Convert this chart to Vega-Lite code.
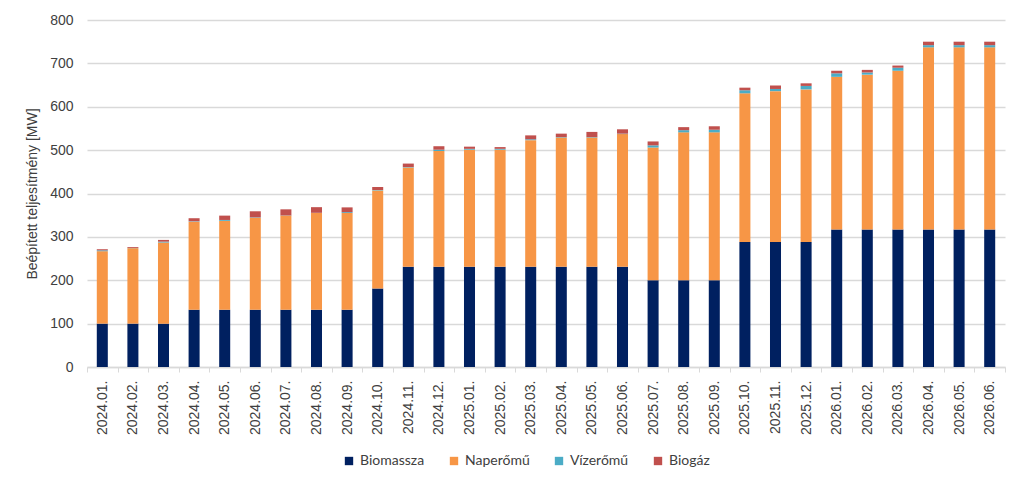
{
  "$schema": "https://vega.github.io/schema/vega-lite/v6.json",
  "width": 918,
  "height": 347,
  "autosize": {"type": "none"},
  "padding": {"left": 87, "top": 20, "right": 19, "bottom": 120},
  "background": "white",
  "config": {
    "view": {"stroke": null},
    "font": "Liberation Sans"
  },
  "data": {
    "values": [
      {"m": "2024.01.", "Biomassza": 100, "Naperőmű": 167, "Vízerőmű": 2, "Biogáz": 2.5},
      {"m": "2024.02.", "Biomassza": 100, "Naperőmű": 174, "Vízerőmű": 0.5, "Biogáz": 2},
      {"m": "2024.03.", "Biomassza": 100, "Naperőmű": 187, "Vízerőmű": 2, "Biogáz": 4},
      {"m": "2024.04.", "Biomassza": 132, "Naperőmű": 203, "Vízerőmű": 1, "Biogáz": 7},
      {"m": "2024.05.", "Biomassza": 132, "Naperőmű": 205, "Vízerőmű": 2, "Biogáz": 10},
      {"m": "2024.06.", "Biomassza": 132, "Naperőmű": 212, "Vízerőmű": 1, "Biogáz": 14},
      {"m": "2024.07.", "Biomassza": 132, "Naperőmű": 217, "Vízerőmű": 0.5, "Biogáz": 14},
      {"m": "2024.08.", "Biomassza": 132, "Naperőmű": 223, "Vízerőmű": 0.5, "Biogáz": 13},
      {"m": "2024.09.", "Biomassza": 132, "Naperőmű": 223, "Vízerőmű": 2, "Biogáz": 11},
      {"m": "2024.10.", "Biomassza": 181, "Naperőmű": 226, "Vízerőmű": 1, "Biogáz": 7},
      {"m": "2024.11.", "Biomassza": 231, "Naperőmű": 229, "Vízerőmű": 1, "Biogáz": 8},
      {"m": "2024.12.", "Biomassza": 231, "Naperőmű": 267, "Vízerőmű": 3, "Biogáz": 8},
      {"m": "2025.01.", "Biomassza": 231, "Naperőmű": 270, "Vízerőmű": 2, "Biogáz": 5},
      {"m": "2025.02.", "Biomassza": 231, "Naperőmű": 270, "Vízerőmű": 2, "Biogáz": 4},
      {"m": "2025.03.", "Biomassza": 231, "Naperőmű": 292, "Vízerőmű": 2, "Biogáz": 9},
      {"m": "2025.04.", "Biomassza": 231, "Naperőmű": 298, "Vízerőmű": 1, "Biogáz": 8},
      {"m": "2025.05.", "Biomassza": 231, "Naperőmű": 298, "Vízerőmű": 1, "Biogáz": 12},
      {"m": "2025.06.", "Biomassza": 231, "Naperőmű": 306, "Vízerőmű": 1, "Biogáz": 10},
      {"m": "2025.07.", "Biomassza": 200, "Naperőmű": 306, "Vízerőmű": 5, "Biogáz": 9},
      {"m": "2025.08.", "Biomassza": 200, "Naperőmű": 341, "Vízerőmű": 5, "Biogáz": 7},
      {"m": "2025.09.", "Biomassza": 200, "Naperőmű": 341, "Vízerőmű": 6, "Biogáz": 8},
      {"m": "2025.10.", "Biomassza": 288, "Naperőmű": 343, "Vízerőmű": 7, "Biogáz": 6},
      {"m": "2025.11.", "Biomassza": 288, "Naperőmű": 348, "Vízerőmű": 5, "Biogáz": 8},
      {"m": "2025.12.", "Biomassza": 288, "Naperőmű": 352, "Vízerőmű": 8, "Biogáz": 6},
      {"m": "2026.01.", "Biomassza": 317, "Naperőmű": 352, "Vízerőmű": 8, "Biogáz": 6},
      {"m": "2026.02.", "Biomassza": 317, "Naperőmű": 357, "Vízerőmű": 5, "Biogáz": 6},
      {"m": "2026.03.", "Biomassza": 317, "Naperőmű": 366, "Vízerőmű": 7, "Biogáz": 5},
      {"m": "2026.04.", "Biomassza": 317, "Naperőmű": 420, "Vízerőmű": 5, "Biogáz": 8},
      {"m": "2026.05.", "Biomassza": 317, "Naperőmű": 420, "Vízerőmű": 5, "Biogáz": 8},
      {"m": "2026.06.", "Biomassza": 317, "Naperőmű": 420, "Vízerőmű": 5, "Biogáz": 8}
    ]
  },
  "transform": [
    {"fold": ["Biomassza", "Naperőmű", "Vízerőmű", "Biogáz"], "as": ["tipus", "mw"]},
    {
      "lookup": "tipus",
      "from": {
        "data": {
          "values": [
            {"tipus": "Biomassza", "sorrend": 1},
            {"tipus": "Naperőmű", "sorrend": 2},
            {"tipus": "Vízerőmű", "sorrend": 3},
            {"tipus": "Biogáz", "sorrend": 4}
          ]
        },
        "key": "tipus",
        "fields": ["sorrend"]
      }
    }
  ],
  "mark": {"type": "bar", "width": {"band": 0.36}},
  "encoding": {
    "x": {
      "field": "m",
      "type": "ordinal",
      "scale": {"paddingInner": 0, "paddingOuter": 0},
      "axis": {
        "title": null,
        "labelAngle": -90,
        "labelAlign": "right",
        "labelBaseline": "middle",
        "labelFontSize": 14,
        "labelColor": "#404040",
        "labelPadding": 8,
        "tickBand": "extent",
        "tickSize": 5,
        "tickColor": "#d9d9d9",
        "domainColor": "#d9d9d9",
        "domainWidth": 1.5
      }
    },
    "y": {
      "field": "mw",
      "type": "quantitative",
      "stack": "zero",
      "scale": {"domain": [0, 800]},
      "axis": {
        "title": "Beépített teljesítmény [MW]",
        "titleFontSize": 14,
        "titleFontWeight": "normal",
        "titleColor": "#404040",
        "titlePadding": 10,
        "values": [0, 100, 200, 300, 400, 500, 600, 700, 800],
        "labelFontSize": 14,
        "labelColor": "#404040",
        "labelPadding": 14,
        "ticks": false,
        "domain": false,
        "gridColor": "#d9d9d9",
        "gridWidth": 1.5
      }
    },
    "order": {"field": "sorrend", "type": "quantitative", "sort": "ascending"},
    "color": {
      "field": "tipus",
      "type": "nominal",
      "sort": ["Biomassza", "Naperőmű", "Vízerőmű", "Biogáz"],
      "scale": {
        "domain": ["Biomassza", "Naperőmű", "Vízerőmű", "Biogáz"],
        "range": ["#002060", "#f79646", "#4bacc6", "#c0504d"]
      },
      "legend": {
        "title": null,
        "orient": "none",
        "direction": "horizontal",
        "legendX": 255,
        "legendY": 434,
        "symbolType": "square",
        "symbolSize": 70,
        "symbolStrokeWidth": 0,
        "labelFont": "Lato",
        "labelFontSize": 14,
        "labelColor": "#404040",
        "columnPadding": 22,
        "labelOffset": 4
      }
    }
  }
}
